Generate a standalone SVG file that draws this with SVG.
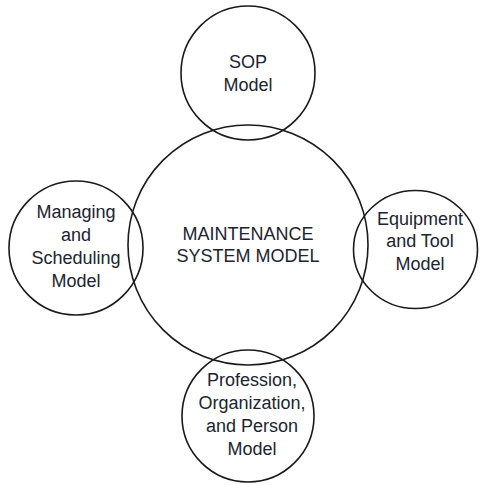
<svg xmlns="http://www.w3.org/2000/svg" width="480" height="485" viewBox="0 0 480 485">
  <style>
    .ring { fill: none; stroke: #1a1a1a; stroke-width: 1.6; }
    .label { font-family: "Liberation Sans", Arial, sans-serif; font-size: 18px; fill: #202430; text-anchor: middle; }
  </style>
  <rect width="480" height="485" fill="#ffffff"/>
  <g id="connectors"></g>
  <g id="maintenance-system-model">
    <circle class="ring" cx="248" cy="245" r="120"/>
    <text class="label" x="248" y="240">MAINTENANCE</text>
    <text class="label" x="248" y="262">SYSTEM MODEL</text>
  </g>
  <g id="sop-model">
    <circle class="ring" cx="248" cy="73" r="67"/>
    <text class="label" x="248" y="68">SOP</text>
    <text class="label" x="248" y="91">Model</text>
  </g>
  <g id="managing-scheduling-model">
    <circle class="ring" cx="76" cy="248" r="67"/>
    <text class="label" x="76" y="218">Managing</text>
    <text class="label" x="76" y="241">and</text>
    <text class="label" x="76" y="264">Scheduling</text>
    <text class="label" x="76" y="287">Model</text>
  </g>
  <g id="equipment-tool-model">
    <ellipse class="ring" cx="415.5" cy="249.5" rx="62" ry="59"/>
    <text class="label" x="420" y="225">Equipment</text>
    <text class="label" x="420" y="247">and Tool</text>
    <text class="label" x="420" y="270">Model</text>
  </g>
  <g id="profession-organization-person-model">
    <circle class="ring" cx="248" cy="416" r="66"/>
    <text class="label" x="252" y="386">Profession,</text>
    <text class="label" x="252" y="409">Organization,</text>
    <text class="label" x="252" y="432">and Person</text>
    <text class="label" x="252" y="455">Model</text>
  </g>
</svg>
